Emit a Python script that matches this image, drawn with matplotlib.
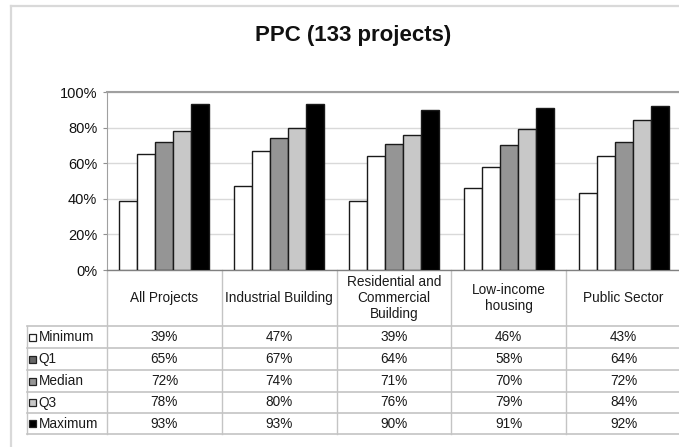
import matplotlib
matplotlib.use("Agg")
import matplotlib.pyplot as plt
import matplotlib.transforms as mtransforms
from matplotlib.lines import Line2D
from matplotlib.patches import Rectangle
import numpy as np

plt.rcParams['font.family'] = ['Liberation Sans', 'DejaVu Sans']

title = "PPC (133 projects)"
categories = ["All Projects", "Industrial Building", "Residential and\nCommercial\nBuilding",
              "Low-income\nhousing", "Public Sector"]
series_names = ["Minimum", "Q1", "Median", "Q3", "Maximum"]
minimum = [39, 47, 39, 46, 43]
q1 = [65, 67, 64, 58, 64]
median = [72, 74, 71, 70, 72]
q3 = [78, 80, 76, 79, 84]
maximum = [93, 93, 90, 91, 92]
series_values = [minimum, q1, median, q3, maximum]
yticks = [0, 20, 40, 60, 80, 100]
ytick_labels = ["0%", "20%", "40%", "60%", "80%", "100%"]

bar_colors = ["#ffffff", "#ffffff", "#959595", "#c8c8c8", "#000000"]
key_colors = ["#ffffff", "#666666", "#959595", "#c8c8c8", "#000000"]

W, H = 679, 447
fig = plt.figure(figsize=(W / 100, H / 100), dpi=100)

def fx(px):
    return px / W

def fy(py):
    return 1 - py / H

# chart area border (partially visible)
fig.add_artist(Line2D([fx(11), fx(11)], [fy(6), fy(H + 5)], color="#d9d9d9", lw=1.6))
fig.add_artist(Line2D([fx(11), fx(W + 5)], [fy(6), fy(6)], color="#d9d9d9", lw=1.6))

pl, pr, pt, pb = 107, 681, 92, 270
ax = fig.add_axes([fx(pl), fy(pb), fx(pr - pl), (pb - pt) / H])

n = len(categories)
x = np.arange(n)
bw = 0.157
for i, (name, vals) in enumerate(zip(series_names, series_values)):
    off = (i - 2) * bw
    ax.bar(x + off, vals, width=bw, color=bar_colors[i], edgecolor="#1a1a1a",
           linewidth=1.0, zorder=3, label=name)

ax.set_xlim(-0.5, n - 0.5)
ax.set_ylim(0, 100)
ax.set_yticks(yticks)
ax.set_yticklabels(ytick_labels, fontsize=10.5)
ax.set_xticks([])
ax.yaxis.grid(True, color="#d9d9d9", lw=1.0, zorder=0)
ax.tick_params(axis="y", length=3, color="#909090", pad=4, labelcolor="#111111")
ax.spines["right"].set_visible(False)
ax.spines["top"].set_color("#a0a0a0")
ax.spines["top"].set_linewidth(1.5)
ax.spines["left"].set_color("#a0a0a0")
ax.spines["bottom"].set_color("#808080")
ax.spines["bottom"].set_linewidth(1.0)

# data table below the plot
trans = mtransforms.blended_transform_factory(ax.transData, ax.transAxes)
ph = pb - pt

def ay(py):
    return (pb - py) / ph

row_lines = [326, 348, 370, 392, 413, 434]
header_mid = (pb + row_lines[0]) / 2
grid_c = "#c4c4c4"
tfs = 9.8

for b in np.arange(n + 1) - 0.5:
    ax.add_line(Line2D([b, b], [ay(pb), ay(row_lines[-1])], transform=trans,
                       color=grid_c, lw=1.0, clip_on=False))
legend_left = 27
for r in row_lines:
    fig.add_artist(Line2D([fx(legend_left), fx(pr)], [fy(r), fy(r)], color=grid_c, lw=1.2))
fig.add_artist(Line2D([fx(legend_left), fx(legend_left)], [fy(row_lines[0]), fy(row_lines[-1])],
                      color=grid_c, lw=1.0))

for j, c in enumerate(categories):
    ax.text(x[j], ay(header_mid), c, transform=trans, ha="center", va="center",
            fontsize=tfs, color="#1a1a1a", linespacing=1.15, clip_on=False)

for i, (name, vals) in enumerate(zip(series_names, series_values)):
    ymid = (row_lines[i] + row_lines[i + 1]) / 2
    fig.add_artist(Rectangle((fx(29), fy(ymid + 3.5)), 7 / W, 7 / H,
                             facecolor=key_colors[i], edgecolor="#222222", lw=0.9))
    fig.text(fx(38.5), fy(ymid), name, ha="left", va="center", fontsize=tfs, color="#1a1a1a")
    for j, v in enumerate(vals):
        ax.text(x[j], ay(ymid), f"{v}%", transform=trans, ha="center", va="center",
                fontsize=tfs, color="#1a1a1a", clip_on=False)

fig.text(fx(353), fy(36), title, ha="center", va="center", fontsize=16, fontweight="bold",
         color="#111111")

fig.savefig("out.png", dpi=100)
